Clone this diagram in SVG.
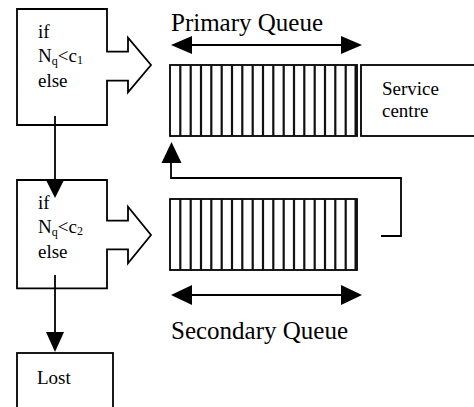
<svg xmlns="http://www.w3.org/2000/svg" xmlns:xlink="http://www.w3.org/1999/xlink" width="474" height="407" viewBox="0 0 474 407">
<style>
.s{fill:none;stroke:#000;stroke-width:1.8}
.b{fill:#fff;stroke:#000;stroke-width:1.8}
text{font-family:'Liberation Serif','Times New Roman','DejaVu Serif',serif;fill:#000}
.t{font-size:19px}
.big{font-size:25px}
.sub{font-size:12px}
.h{fill:#000;stroke:none}
.st{stroke:#111;stroke-width:2.2}
</style>
<defs>
<g id="stripes">
<rect x="170" y="0" width="187" height="71" class="b"/>
<path class="st" d="M180.3,0V71M190.7,0V71M201,0V71M211.3,0V71M221.7,0V71M232,0V71M242.3,0V71M252.7,0V71M263,0V71M273.3,0V71M283.7,0V71M294,0V71M304.3,0V71M314.7,0V71M325,0V71M335.3,0V71M345.7,0V71M355.6,0V71"/>
</g>
</defs>
<g id="box1">
<path class="b" d="M17,9H107V51.7H128V37.7L151,65L128,92.3V80.7H107V125H17Z"/>
<text class="t" x="38" y="38" font-family="Liberation Serif, serif">if</text>
<text class="t" x="38" y="62" font-family="Liberation Serif, serif">N<tspan class="sub" dy="3">q</tspan><tspan dy="-3">&lt;c</tspan><tspan class="sub" dy="2">1</tspan></text>
<text class="t" x="38" y="87" font-family="Liberation Serif, serif">else</text>
</g>
<g id="box2">
<path class="b" d="M17,180H107V220.7H128V206.7L151,235L128,263.3V249.3H107V288.3H17Z"/>
<text class="t" x="38" y="209" font-family="Liberation Serif, serif">if</text>
<text class="t" x="38" y="233" font-family="Liberation Serif, serif">N<tspan class="sub" dy="3">q</tspan><tspan dy="-3">&lt;c</tspan><tspan class="sub" dy="2">2</tspan></text>
<text class="t" x="38" y="258" font-family="Liberation Serif, serif">else</text>
</g>
<g id="primary-queue">
<use xlink:href="#stripes" transform="translate(0,65)"/>
</g>
<g id="secondary-queue">
<use xlink:href="#stripes" transform="translate(0,199)"/>
</g>
<g id="service-centre">
<rect class="b" x="361" y="65" width="120" height="71"/>
<text class="t" x="382" y="95" font-family="Liberation Serif, serif">Service</text>
<text class="t" x="382" y="117" font-family="Liberation Serif, serif">centre</text>
</g>
<g id="lost">
<rect class="b" x="17" y="353" width="96" height="70"/>
<text class="t" x="37" y="384" font-family="Liberation Serif, serif">Lost</text>
</g>
<g id="labels">
<text class="big" x="171" y="31" font-family="Liberation Serif, serif">Primary Queue</text>
<text class="big" x="171" y="339" font-family="Liberation Serif, serif">Secondary Queue</text>
</g>
<g id="connectors">
<path class="s" d="M55,116V182"/>
<polygon class="h" points="46,180 64,180 55,198"/>
<path class="s" d="M55,275V334"/>
<polygon class="h" points="46,332 64,332 55,352"/>
<path class="s" d="M381,236H401V178H171V161"/>
<polygon class="h" points="161.5,163 181.5,163 171.5,142"/>
<path class="s" d="M190,45H343"/>
<polygon class="h" points="171,45 192,36 192,54"/>
<polygon class="h" points="362,45 341,36 341,54"/>
<path class="s" d="M190,295H343"/>
<polygon class="h" points="171,295 192,285 192,305"/>
<polygon class="h" points="362,295 341,285 341,305"/>
</g>
</svg>
